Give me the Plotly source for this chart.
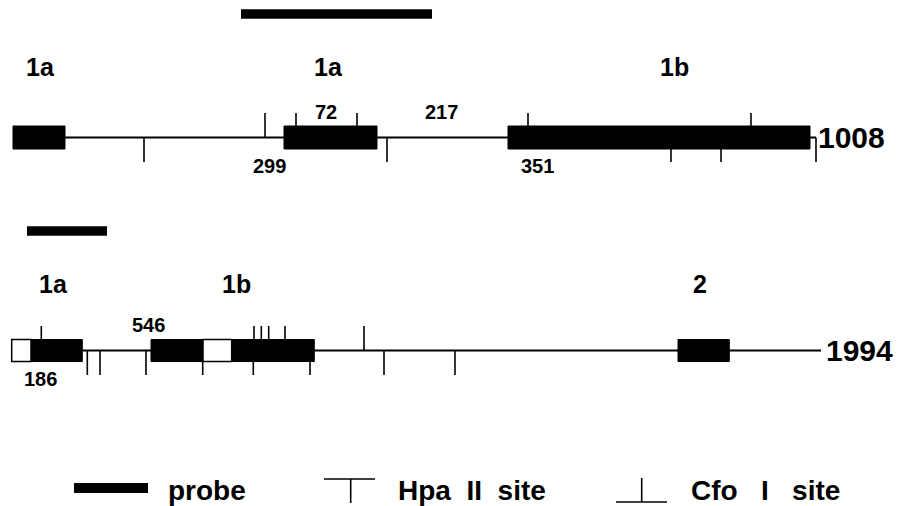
import plotly.graph_objects as go

# ---------------- data (diagram units along the map) ----------------
# Upper clone (1008)
top_span = [13, 816]
top_exons = [(13, 65), (284, 377), (508, 810)]
top_hpa = [265, 296, 357, 528, 751]
top_cfo = [144, 387, 671, 721, 816]
top_probe = [241, 432]
top_exon_labels = ["1a", "1a", "1b"]
top_exon_label_x = [40, 328, 674]
top_size_labels = ["72", "217", "299", "351"]
top_size_x = [326, 441, 269, 537]
top_size_side = ["above", "above", "below", "below"]
top_name = "1008"

# Lower clone (1994)
bot_span = [12, 821]
bot_exons_filled = [(31, 82.3), (151, 203), (231.7, 314.3), (678, 729.3)]
bot_exons_open = [(11.7, 31), (203, 231.7)]
bot_hpa = [41.3, 254, 261.3, 268.7, 285, 364]
bot_cfo = [87.3, 100, 146, 202.7, 253.3, 310, 384, 455]
bot_probe = [27, 107]
bot_exon_labels = ["1a", "1b", "2"]
bot_exon_label_x = [53, 236, 700]
bot_size_labels = ["546", "186"]
bot_size_x = [148, 40]
bot_size_side = ["above", "below"]
bot_name = "1994"

NB = "\u00a0"
legend_labels = ["probe", "Hpa" + NB * 2 + "II" + NB * 2 + "site",
                 "Cfo" + NB * 3 + "I" + NB * 3 + "site"]

# ---------------- layout geometry ----------------
TOP_Y, BOT_Y = 137.5, 350.5
TOP_HALF, BOT_HALF = 11.5, 11
TICK = 24.5
PAGE_OFFSET = 8  # default body margin of the html page

fig = go.Figure()
FONT = "Liberation Sans"


def seg(xs, ys, width):
    fig.add_trace(go.Scatter(x=xs, y=ys, mode="lines",
                             line=dict(color="black", width=width),
                             hoverinfo="skip", showlegend=False))


def label(x, y, text, size, anchor="center"):
    fig.add_annotation(x=x, y=y, xref="x", yref="y", text=text, showarrow=False,
                       xanchor=anchor, yanchor="middle",
                       font=dict(family=FONT, size=size, color="black", weight="bold"))


def draw_gene(span, filled, opened, hpa, cfo, yc, half, probe, probe_y,
              ex_labels, ex_x, ex_y, sz_labels, sz_x, sz_side, name, name_x):
    all_boxes = list(filled) + list(opened)
    seg(span, [yc, yc], 2)
    for a, b in filled:
        fig.add_shape(type="rect", x0=a, x1=b, y0=yc - half, y1=yc + half,
                      xref="x", yref="y", fillcolor="black",
                      line=dict(color="black", width=1))
    for a, b in opened:
        fig.add_shape(type="rect", x0=a, x1=b, y0=yc - half, y1=yc + half,
                      xref="x", yref="y", fillcolor="white",
                      line=dict(color="black", width=1.5))
    xs, ys = [], []
    for p in hpa:
        inside = any(a <= p <= b for a, b in all_boxes)
        y0 = yc - half if inside else yc
        xs += [p, p, None]
        ys += [y0, yc - TICK, None]
    for p in cfo:
        inside = any(a < p < b for a, b in all_boxes)
        y0 = yc + half if inside else yc
        xs += [p, p, None]
        ys += [y0, yc + TICK, None]
    seg(xs, ys, 1.6)
    seg(probe, [probe_y, probe_y], 9.5)
    for t, x in zip(ex_labels, ex_x):
        label(x, ex_y, t, 25)
    for t, x, s in zip(sz_labels, sz_x, sz_side):
        label(x, yc - 26 if s == "above" else yc + 28.5, t, 20)
    label(name_x, yc, name, 30, anchor="left")


draw_gene(top_span, top_exons, [], top_hpa, top_cfo, TOP_Y, TOP_HALF,
          top_probe, 14, top_exon_labels, top_exon_label_x, 67,
          top_size_labels, top_size_x, top_size_side, top_name, 816)
draw_gene(bot_span, bot_exons_filled, bot_exons_open, bot_hpa, bot_cfo, BOT_Y,
          BOT_HALF, bot_probe, 231, bot_exon_labels, bot_exon_label_x, 284,
          bot_size_labels, bot_size_x, bot_size_side, bot_name, 824)

# ---------------- legend ----------------
LEG_Y = 490
seg([74, 148], [488, 488], 10)
seg([324, 375, None, 350.7, 350.7], [479, 479, None, 479, 503], 1.6)
seg([616, 667, None, 641.7, 641.7], [502, 502, None, 478, 502], 1.6)
for t, x in zip(legend_labels, [166, 396, 689]):
    label(x, LEG_Y, t, 28, anchor="left")

fig.update_layout(
    width=903 - PAGE_OFFSET, height=506 - PAGE_OFFSET,
    margin=dict(l=0, r=0, t=0, b=0),
    paper_bgcolor="white", plot_bgcolor="white",
    xaxis=dict(range=[PAGE_OFFSET, 903], visible=False, fixedrange=True),
    yaxis=dict(range=[506, PAGE_OFFSET], visible=False, fixedrange=True),
    showlegend=False,
)
fig.write_html("out.html")
